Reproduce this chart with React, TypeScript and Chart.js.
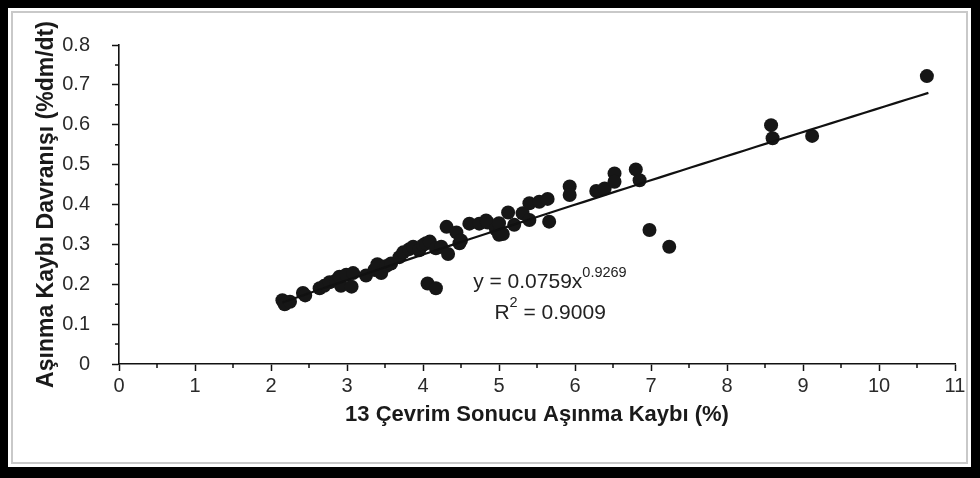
import React, { useEffect, useRef } from "react";
import { Chart, registerables } from "chart.js";

Chart.register(...registerables);

// 13-cycle wear loss (%) for each sample
const wearLoss = [
  2.15, 2.18, 2.25, 2.42, 2.45, 2.64, 2.7, 2.77, 2.86, 2.9, 2.92, 2.99, 3.06, 3.08,
  3.25, 3.36, 3.4, 3.45, 3.52, 3.58, 3.69, 3.74, 3.82, 3.87, 3.95, 4.0, 4.04, 4.09,
  4.06, 4.17, 4.17, 4.24, 4.31, 4.33, 4.44, 4.48, 4.5, 4.61, 4.74, 4.83, 4.85, 4.96,
  5.0, 5.0, 5.05, 5.12, 5.2, 5.31, 5.4, 5.4, 5.53, 5.64, 5.66, 5.93, 5.93, 6.28,
  6.39, 6.52, 6.52, 6.8, 6.85, 6.98, 7.24, 8.58, 8.6, 9.12, 10.63,
];

// wear loss behaviour (%dm/dt) for the same samples
const wearRate = [
  0.16, 0.15, 0.156, 0.178, 0.172, 0.19, 0.196, 0.205, 0.21, 0.219, 0.196, 0.224, 0.194, 0.228,
  0.222, 0.236, 0.25, 0.228, 0.246, 0.252, 0.268, 0.28, 0.288, 0.294, 0.285, 0.298, 0.303, 0.307,
  0.202, 0.19, 0.29, 0.294, 0.344, 0.276, 0.33, 0.303, 0.31, 0.352, 0.352, 0.36, 0.355, 0.338,
  0.324, 0.353, 0.326, 0.38, 0.349, 0.378, 0.361, 0.403, 0.407, 0.414, 0.357, 0.445, 0.424, 0.434,
  0.44, 0.478, 0.457, 0.488, 0.461, 0.336, 0.294, 0.599, 0.566, 0.572, 0.722,
];

// power trend line y = a * x^b
const fitA = 0.0759;
const fitB = 0.9269;
const fitR2 = "0.9009";
const fitFrom = 2.15;
const fitTo = 10.65;

const xTickMax = 11;
const yTickMax = 0.8;

const FONT = "'Liberation Sans', Arial, Helvetica, sans-serif";

const trendPoints = (() => {
  const pts: { x: number; y: number }[] = [];
  const n = 60;
  for (let i = 0; i <= n; i++) {
    const x = fitFrom + ((fitTo - fitFrom) * i) / n;
    pts.push({ x, y: fitA * Math.pow(x, fitB) });
  }
  return pts;
})();

// short minor ticks between the labelled ones
const minorTicks = {
  id: "minorTicks",
  afterDraw(chart: any) {
    const { ctx, scales } = chart;
    const xs = scales.x;
    const ys = scales.y;
    ctx.save();
    ctx.strokeStyle = "#111";
    ctx.lineWidth = 1.5;
    ctx.beginPath();
    for (let v = 0.5; v < xTickMax; v += 1) {
      const px = xs.getPixelForValue(v);
      ctx.moveTo(px, ys.bottom);
      ctx.lineTo(px, ys.bottom + 4);
    }
    for (let v = 0.05; v < yTickMax; v += 0.1) {
      const py = ys.getPixelForValue(v);
      ctx.moveTo(xs.left, py);
      ctx.lineTo(xs.left - 4, py);
    }
    ctx.stroke();
    ctx.restore();
  },
};

// regression equation and R² beside the trend line
const equationLabel = {
  id: "equationLabel",
  afterDraw(chart: any) {
    const { ctx, scales } = chart;
    const xs = scales.x;
    const ys = scales.y;
    ctx.save();
    ctx.fillStyle = "#222";
    ctx.textBaseline = "middle";
    ctx.textAlign = "left";
    const main = `y = ${fitA}x`;
    ctx.font = `21px ${FONT}`;
    const x0 = xs.getPixelForValue(4.66);
    const y0 = ys.getPixelForValue(0.204);
    ctx.fillText(main, x0, y0);
    const w = ctx.measureText(main).width;
    ctx.font = `14.5px ${FONT}`;
    ctx.fillText(String(fitB), x0 + w, y0 - 10);

    ctx.font = `21px ${FONT}`;
    const rx = xs.getPixelForValue(4.94);
    const ry = ys.getPixelForValue(0.127);
    ctx.fillText("R", rx, ry);
    const rw = ctx.measureText("R").width;
    ctx.font = `14.5px ${FONT}`;
    ctx.fillText("2", rx + rw, ry - 10);
    const sw = ctx.measureText("2").width;
    ctx.font = `21px ${FONT}`;
    ctx.fillText(` = ${fitR2}`, rx + rw + sw, ry);
    ctx.restore();
  },
};

export default function App() {
  const canvasRef = useRef<HTMLCanvasElement | null>(null);

  useEffect(() => {
    const canvas = canvasRef.current;
    if (!canvas) return;
    const chart = new Chart(canvas, {
      type: "scatter",
      data: {
        datasets: [
          {
            label: "Numuneler",
            data: wearLoss.map((x, i) => ({ x, y: wearRate[i] })),
            backgroundColor: "#161616",
            borderColor: "#161616",
            pointRadius: 7,
            pointBorderWidth: 0,
            order: 2,
          },
          {
            label: "Güç eğilimi",
            type: "line",
            data: trendPoints,
            borderColor: "#111",
            borderWidth: 2.2,
            pointRadius: 0,
            fill: false,
            tension: 0,
            order: 1,
          } as any,
        ],
      },
      options: {
        responsive: false,
        animation: false,
        events: [],
        layout: { padding: { top: 45, right: 25, left: 0, bottom: 0 } },
        plugins: {
          legend: { display: false },
          tooltip: { enabled: false },
          title: { display: false },
        },
        scales: {
          x: {
            type: "linear",
            min: 0,
            max: xTickMax,
            afterFit(scale: any) {
              scale.height = 114;
            },
            ticks: {
              stepSize: 1,
              padding: 3,
              color: "#2a2a2a",
              font: { family: FONT, size: 20 },
              maxRotation: 0,
            },
            grid: {
              drawOnChartArea: false,
              drawTicks: true,
              tickLength: 7,
              tickColor: "#111",
              tickWidth: 1.5,
            },
            border: { display: true, color: "#111", width: 1.6 },
            title: {
              display: true,
              text: "13 Çevrim Sonucu Aşınma Kaybı (%)",
              color: "#1a1a1a",
              font: { family: FONT, size: 22, weight: "bold" },
              padding: { top: 0, bottom: 50 },
            },
          },
          y: {
            type: "linear",
            min: 0,
            max: yTickMax,
            afterFit(scale: any) {
              scale.width = 119;
            },
            ticks: {
              stepSize: 0.1,
              padding: 22,
              color: "#2a2a2a",
              font: { family: FONT, size: 20 },
              callback: (v: any) => {
                const n = Math.round(Number(v) * 10) / 10;
                return n === 0 ? "0" : n.toFixed(1);
              },
            },
            grid: {
              drawOnChartArea: false,
              drawTicks: true,
              tickLength: 7,
              tickColor: "#111",
              tickWidth: 1.5,
            },
            border: { display: true, color: "#111", width: 1.6 },
            title: {
              display: true,
              text: "Aşınma Kaybı Davranışı (%dm/dt)",
              color: "#1a1a1a",
              font: { family: FONT, size: 23, weight: "bold" },
              padding: { top: 33, bottom: 0 },
            },
          },
        },
      },
      plugins: [minorTicks, equationLabel],
    });
    return () => chart.destroy();
  }, []);

  return (
    <div
      style={{
        position: "absolute",
        left: 0,
        top: 0,
        width: 980,
        height: 478,
        background: "#fff",
        overflow: "hidden",
      }}
    >
      <canvas
        ref={canvasRef}
        width={980}
        height={478}
        style={{ position: "absolute", left: 0, top: 0, width: 980, height: 478 }}
      />
      <div
        style={{
          position: "absolute",
          left: 0,
          top: 0,
          width: 980,
          height: 478,
          boxSizing: "border-box",
          borderStyle: "solid",
          borderColor: "#000",
          borderWidth: "8px 9px 11px 8px",
          pointerEvents: "none",
        }}
      />
      <div
        style={{
          position: "absolute",
          left: 11,
          top: 11,
          width: 980 - 11 - 12,
          height: 478 - 11 - 14,
          boxSizing: "border-box",
          border: "2px solid #c9c9c9",
          pointerEvents: "none",
        }}
      />
    </div>
  );
}
